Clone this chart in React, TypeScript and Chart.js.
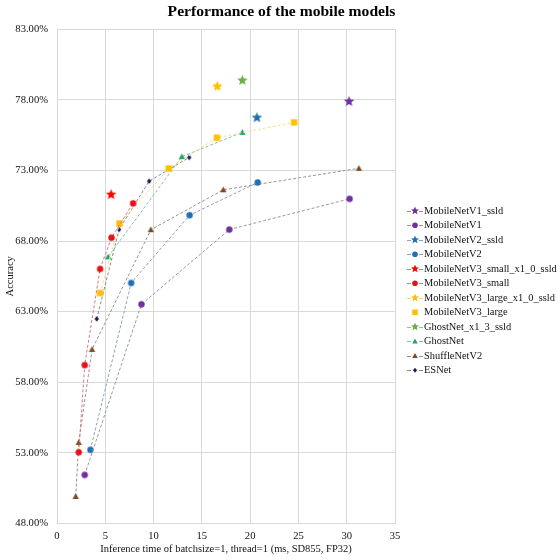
import React, { useEffect, useRef } from "react";
import { Chart, registerables } from "chart.js";
Chart.register(...registerables);

// ---- data (latency ms, top-1 accuracy %) ----
const mobileNetV1SsldX = [30.24];
const mobileNetV1SsldY = [77.89];
const mobileNetV1X = [2.87, 8.75, 17.84, 30.3];
const mobileNetV1Y = [51.43, 63.52, 68.81, 70.99];
const mobileNetV2SsldX = [20.7];
const mobileNetV2SsldY = [76.74];
const mobileNetV2X = [3.46, 7.68, 13.73, 20.78];
const mobileNetV2Y = [53.21, 65.03, 69.83, 72.15];
const mobileNetV3SmallSsldX = [5.6];
const mobileNetV3SmallSsldY = [71.29];
const mobileNetV3SmallX = [2.25, 2.87, 4.46, 5.64, 7.88];
const mobileNetV3SmallY = [53.03, 59.21, 66.02, 68.24, 70.67];
const mobileNetV3LargeSsldX = [16.6];
const mobileNetV3LargeSsldY = [78.96];
const mobileNetV3LargeX = [4.46, 6.47, 11.58, 16.56, 24.55];
const mobileNetV3LargeY = [64.32, 69.24, 73.14, 75.32, 76.41];
const ghostNetSsldX = [19.19];
const ghostNetSsldY = [79.38];
const ghostNetX = [5.29, 12.93, 19.19];
const ghostNetY = [66.88, 73.98, 75.7];
const shuffleNetV2X = [1.94, 2.25, 3.63, 9.72, 17.22, 31.26];
const shuffleNetV2Y = [49.9, 53.73, 60.32, 68.8, 71.63, 73.15];
const esNetX = [4.11, 6.43, 9.54, 13.69];
const esNetY = [62.48, 68.82, 72.24, 73.92];

const seriesNames = [
  "MobileNetV1_ssld",
  "MobileNetV1",
  "MobileNetV2_ssld",
  "MobileNetV2",
  "MobileNetV3_small_x1_0_ssld",
  "MobileNetV3_small",
  "MobileNetV3_large_x1_0_ssld",
  "MobileNetV3_large",
  "GhostNet_x1_3_ssld",
  "GhostNet",
  "ShuffleNetV2",
  "ESNet",
];

const xTicks = [0, 5, 10, 15, 20, 25, 30, 35];
const yTicks = [48, 53, 58, 63, 68, 73, 78, 83];

const FONT = "'Liberation Serif', 'Times New Roman', serif";

type Marker = "star" | "circle" | "rect" | "triangle" | "diamond";

function drawMarker(ctx: CanvasRenderingContext2D, m: Marker, cx: number, cy: number, r: number, color: string) {
  ctx.fillStyle = color;
  ctx.beginPath();
  if (m === "star") {
    for (let i = 0; i < 10; i++) {
      const rad = i % 2 === 0 ? r : r * 0.45;
      const a = -Math.PI / 2 + (i * Math.PI) / 5;
      const px = cx + rad * Math.cos(a);
      const py = cy + rad * Math.sin(a);
      if (i === 0) ctx.moveTo(px, py);
      else ctx.lineTo(px, py);
    }
    ctx.closePath();
  } else if (m === "circle") {
    ctx.arc(cx, cy, r, 0, Math.PI * 2);
  } else if (m === "rect") {
    ctx.rect(cx - r, cy - r, 2 * r, 2 * r);
  } else if (m === "triangle") {
    ctx.moveTo(cx, cy - r);
    ctx.lineTo(cx + r, cy + r * 0.8);
    ctx.lineTo(cx - r, cy + r * 0.8);
    ctx.closePath();
  } else {
    ctx.moveTo(cx, cy - r);
    ctx.lineTo(cx + r * 0.8, cy);
    ctx.lineTo(cx, cy + r);
    ctx.lineTo(cx - r * 0.8, cy);
    ctx.closePath();
  }
  ctx.fill();
}

function markerImage(m: Marker, r: number, color: string) {
  const c = document.createElement("canvas");
  const s = Math.ceil(r * 2 + 2);
  c.width = s;
  c.height = s;
  const ctx = c.getContext("2d")!;
  drawMarker(ctx, m, s / 2, s / 2, r, color);
  return c;
}

export default function App() {
  const ref = useRef<HTMLCanvasElement | null>(null);
  useEffect(() => {
    document.body.style.margin = "0";
    if (!ref.current) return;

    const specs: { x: number[]; y: number[]; marker: Marker; r: number; color: string; line: string; legendLine: boolean }[] = [
      { x: mobileNetV1SsldX, y: mobileNetV1SsldY, marker: "star", r: 5.5, color: "#7030A0", line: "#9a86b0", legendLine: true },
      { x: mobileNetV1X, y: mobileNetV1Y, marker: "circle", r: 3.2, color: "#7030A0", line: "#9a9a9a", legendLine: true },
      { x: mobileNetV2SsldX, y: mobileNetV2SsldY, marker: "star", r: 5.5, color: "#1F6FB5", line: "#7fa4c8", legendLine: true },
      { x: mobileNetV2X, y: mobileNetV2Y, marker: "circle", r: 3.2, color: "#1F6FB5", line: "#8aa2b8", legendLine: true },
      { x: mobileNetV3SmallSsldX, y: mobileNetV3SmallSsldY, marker: "star", r: 5.5, color: "#FF0000", line: "#e07070", legendLine: true },
      { x: mobileNetV3SmallX, y: mobileNetV3SmallY, marker: "circle", r: 3.2, color: "#E8101A", line: "#d87a7a", legendLine: true },
      { x: mobileNetV3LargeSsldX, y: mobileNetV3LargeSsldY, marker: "star", r: 5.5, color: "#FFC000", line: "#f5d77a", legendLine: true },
      { x: mobileNetV3LargeX, y: mobileNetV3LargeY, marker: "rect", r: 3.2, color: "#FFC000", line: "#f8e08a", legendLine: false },
      { x: ghostNetSsldX, y: ghostNetSsldY, marker: "star", r: 5.5, color: "#70AD47", line: "#9cc488", legendLine: true },
      { x: ghostNetX, y: ghostNetY, marker: "triangle", r: 3.2, color: "#1FA36A", line: "#7cc4a6", legendLine: true },
      { x: shuffleNetV2X, y: shuffleNetV2Y, marker: "triangle", r: 3.2, color: "#7F4A22", line: "#9a9290", legendLine: true },
      { x: esNetX, y: esNetY, marker: "diamond", r: 2.8, color: "#1B1F55", line: "#8a8a96", legendLine: true },
    ];

    const datasets = specs.map((s, i) => ({
      label: seriesNames[i],
      data: s.x.map((xv, j) => ({ x: xv, y: s.y[j] })),
      showLine: s.x.length > 1,
      borderColor: s.line,
      borderWidth: 1,
      borderDash: [3, 2],
      backgroundColor: s.color,
      pointStyle: markerImage(s.marker, s.r, s.color) as any,
      pointRadius: s.r,
      tension: 0,
      yAxisID: "y",
    }));

    // legend drawn beside the plot, in the space kept free by the right-hand spacer axis
    const sideLegend = {
      id: "sideLegend",
      afterDraw(chart: any) {
        const ctx: CanvasRenderingContext2D = chart.ctx;
        const area = chart.chartArea;
        const step = 14.5;
        const mid = (area.top + area.bottom) / 2 + 14.2;
        const x0 = area.right + 12;
        ctx.save();
        ctx.font = `10.4px ${FONT}`;
        ctx.textBaseline = "middle";
        ctx.textAlign = "left";
        specs.forEach((s, i) => {
          const y = mid + (i - (specs.length - 1) / 2) * step;
          if (s.legendLine) {
            ctx.strokeStyle = s.line;
            ctx.lineWidth = 1;
            ctx.beginPath();
            ctx.moveTo(x0, Math.round(y) + 0.5);
            ctx.lineTo(x0 + 4, Math.round(y) + 0.5);
            ctx.moveTo(x0 + 12, Math.round(y) + 0.5);
            ctx.lineTo(x0 + 16, Math.round(y) + 0.5);
            ctx.stroke();
          }
          const mr = s.marker === "star" ? 4.2 : s.marker === "diamond" ? 2.6 : 2.8;
          drawMarker(ctx, s.marker, x0 + 8, y, mr, s.color);
          ctx.fillStyle = "#111";
          ctx.fillText(seriesNames[i], x0 + 17, y + 0.5);
        });
        ctx.restore();
      },
    };

    const chart = new Chart(ref.current, {
      type: "scatter",
      data: { datasets: datasets as any },
      plugins: [sideLegend],
      options: {
        animation: false,
        responsive: false,
        maintainAspectRatio: false,
        layout: { padding: { left: 3, right: 0, top: 0, bottom: 0 } },
        plugins: {
          tooltip: { enabled: false },
          legend: { display: false },
          title: {
            display: true,
            text: "Performance of the mobile models",
            color: "#000",
            font: { family: FONT, size: 15.6, weight: "bold" },
            padding: { top: 3, bottom: 7.6 },
            fullSize: true,
          },
        },
        scales: {
          x: {
            type: "linear",
            min: 0,
            max: 35,
            afterBuildTicks: (axis: any) => {
              axis.ticks = xTicks.map((v) => ({ value: v }));
            },
            afterFit: (axis: any) => {
              axis.height = 36.7;
            },
            grid: { color: "#d9d9d9", drawTicks: false },
            border: { color: "#d9d9d9" },
            ticks: { color: "#111", font: { family: FONT, size: 10.6 }, padding: 6.5 },
            title: {
              display: true,
              text: "Inference time of batchsize=1, thread=1 (ms, SD855, FP32)",
              color: "#111",
              font: { family: FONT, size: 10.5 },
              padding: { top: 0, bottom: 4.5 },
            },
          },
          y: {
            type: "linear",
            position: "left",
            min: 48,
            max: 83,
            afterBuildTicks: (axis: any) => {
              axis.ticks = yTicks.map((v) => ({ value: v }));
            },
            afterFit: (axis: any) => {
              axis.width = 54;
            },
            grid: { color: "#d9d9d9", drawTicks: false },
            border: { color: "#d9d9d9" },
            ticks: {
              color: "#111",
              font: { family: FONT, size: 10.6 },
              padding: 9,
              callback: (v: any) => Number(v).toFixed(2) + "%",
            },
            title: {
              display: true,
              text: "Accuracy",
              color: "#111",
              font: { family: FONT, size: 10.5 },
              padding: { top: 0.5, bottom: 0 },
            },
          },
          legendSpace: {
            type: "linear",
            position: "right",
            min: 0,
            max: 1,
            grid: { display: false, drawTicks: false },
            border: { display: false },
            ticks: { display: false },
            afterFit: (axis: any) => {
              axis.width = 165;
            },
          },
        },
      },
    });
    return () => chart.destroy();
  }, []);

  return (
    <div style={{ width: 560, height: 560, background: "#fff" }}>
      <canvas ref={ref} width={560} height={560} style={{ width: 560, height: 560, display: "block" }} />
    </div>
  );
}
